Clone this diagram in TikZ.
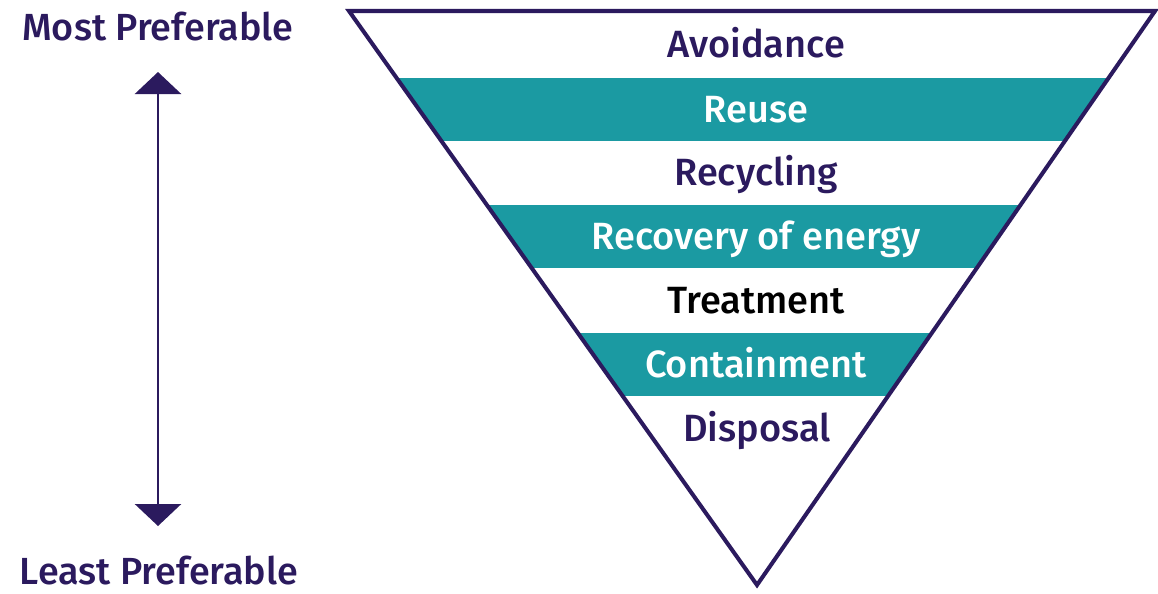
\documentclass[tikz,border=0pt]{standalone}
\usepackage{fontspec}
\setmainfont{Fira Sans Medium}
\usetikzlibrary{arrows.meta}
\definecolor{deep}{HTML}{2B1A5E}
\definecolor{tealc}{HTML}{1B9AA2}
\tikzset{
  tier/.style  ={font=\fontsize{21.6}{26}\selectfont,anchor=base,text=deep,inner sep=0pt},
  tierhl/.style={tier,text=white},
  side/.style  ={font=\fontsize{21.5}{26}\selectfont,anchor=base,text=deep,inner sep=0pt},
  band/.style  ={fill=tealc},
  rim/.style   ={draw=deep,line width=2.3pt,line join=miter},
  pref/.style  ={{Triangle[width=0.92cm,length=0.44cm]}-{Triangle[width=0.92cm,length=0.44cm]},
                 draw=deep,line width=1.7pt},
}

\begin{document}
\begin{tikzpicture}[x=0.02cm,y=-0.02cm]
  \useasboundingbox (0,0) rectangle (1158,593);
  \coordinate (tl) at (349,11);
  \coordinate (tr) at (1155,11);
  \coordinate (bt) at (757,585);
  % teal bands
  \begin{scope}
    \clip (tl) -- (tr) -- (bt) -- cycle;
    \fill[band] (300,78) rectangle (1200,141);
    \fill[band] (300,205) rectangle (1200,268);
    \fill[band] (300,333) rectangle (1200,396);
  \end{scope}
  \draw[rim] (tl) -- (tr) -- (bt) -- cycle;

  \node[tier]   (avoid)   at (756,57)  {Avoidance};
  \node[tierhl] (reuse)   at (756,122) {Reuse};
  \node[tier]   (recyc)   at (756,185.5) {Recycling};
  \node[tierhl] (recov)   at (756,249) {Recovery of energy};
  \node[tier,text=black] (treat) at (756,313) {Treatment};
  \node[tierhl] (contain) at (756,377) {Containment};
  \node[tier]   (dispose) at (757,441)   {Disposal};

  % preference scale
  \node[side] (most)  at (158,40)  {Most Preferable};
  \node[side] (least) at (159,584) {Least Preferable};
  \coordinate (up) at (158,72);
  \coordinate (dn) at (158,526);
  \draw[pref] (dn) -- (up);
\end{tikzpicture}
\end{document}
